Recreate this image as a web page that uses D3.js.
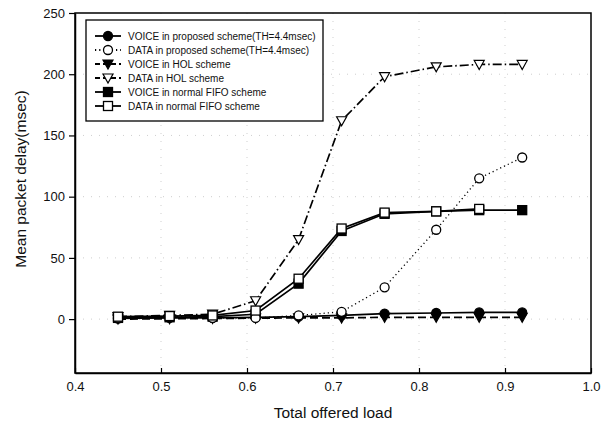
<!DOCTYPE html>
<html>
<head>
<meta charset="utf-8">
<script src="https://cdn.jsdelivr.net/npm/d3@7"></script>
<style>
  body { margin: 0; background: #fff; }
  svg { font-family: "Liberation Sans", Arial, sans-serif; }
</style>
</head>
<body>
<svg id="chart" width="607" height="434"></svg>
<script>
// offered load values
const loads = [0.45, 0.51, 0.56, 0.61, 0.66, 0.71, 0.76, 0.82, 0.87, 0.92];

// mean packet delay (msec) per scheme
const voiceProposed = [0.5, 1, 1, 1.5, 2, 3, 4.5, 5, 5.5, 5.5];
const dataProposed = [1, 2.5, 1, 1, 3, 6, 26, 73, 115, 132];
const voiceHOL = [0, 0.3, 0.5, 0.8, 1, 1, 1.5, 1.5, 1.5, 1.5];
const dataHOL = [2, 3, 4, 15, 65, 162, 198, 206, 208, 208];
const voiceFIFO = [1, 1.5, 2, 4, 29, 72, 86, 88, 89, 89];
const dataFIFO = [2, 2.5, 3, 7, 33, 74, 87, 88, 90];

const xTicks = [0.4, 0.5, 0.6, 0.7, 0.8, 0.9, 1.0];
const yTicks = [0, 50, 100, 150, 200, 250];

const series = [
  {name: 'VOICE in proposed scheme(TH=4.4msec)', values: voiceProposed, symbol: 'circle', filled: true, dash: null},
  {name: 'DATA in proposed scheme(TH=4.4msec)', values: dataProposed, symbol: 'circle', filled: false, dash: '1.2,3'},
  {name: 'VOICE in HOL scheme', values: voiceHOL, symbol: 'tri', filled: true, dash: '8,4'},
  {name: 'DATA in HOL scheme', values: dataHOL, symbol: 'tri', filled: false, dash: '9,3,1.5,3'},
  {name: 'VOICE in normal FIFO scheme', values: voiceFIFO, symbol: 'square', filled: true, dash: null},
  {name: 'DATA in normal FIFO scheme', values: dataFIFO, symbol: 'square', filled: false, dash: null}
];

const margin = {left: 75, right: 16, top: 13, bottom: 61};
const width = 607, height = 434;

const svg = d3.select('#chart');

const x = d3.scaleLinear().domain([0.4, 1.0]).range([margin.left, width - margin.right]);
const y = d3.scaleLinear().domain([-44, 250]).range([height - margin.bottom, margin.top]);

// faint dotted grid (scan-like)
const grid = svg.append('g').attr('stroke', '#bbb').attr('stroke-width', 1)
  .attr('stroke-dasharray', '1,7').attr('opacity', 0.7);
grid.selectAll('line.v').data(xTicks.slice(1, -1)).enter().append('line')
  .attr('x1', d => x(d)).attr('x2', d => x(d))
  .attr('y1', y.range()[1]).attr('y2', y.range()[0]);
grid.selectAll('line.h').data(yTicks.slice(0, -1)).enter().append('line')
  .attr('x1', x.range()[0]).attr('x2', x.range()[1])
  .attr('y1', d => y(d)).attr('y2', d => y(d));

// frame
svg.append('rect')
  .attr('x', x.range()[0]).attr('y', y.range()[1])
  .attr('width', x.range()[1] - x.range()[0])
  .attr('height', y.range()[0] - y.range()[1])
  .attr('fill', 'none').attr('stroke', '#000').attr('stroke-width', 1.5);

const xAxis = svg.append('g')
  .attr('transform', `translate(0,${y.range()[0]})`)
  .call(d3.axisBottom(x).tickValues(xTicks).tickFormat(d3.format('.1f')).tickSizeInner(-5).tickSizeOuter(0).tickPadding(9));
const yAxis = svg.append('g')
  .attr('transform', `translate(${x.range()[0]},0)`)
  .call(d3.axisLeft(y).tickValues(yTicks).tickSizeInner(6).tickSizeOuter(0).tickPadding(4));

[xAxis, yAxis].forEach(a => {
  a.select('.domain').attr('stroke-width', 1.5);
  a.selectAll('.tick line').attr('stroke-width', 1.2);
  a.selectAll('.tick text').attr('font-size', 13).attr('fill', '#111');
});

svg.append('text')
  .attr('x', (x.range()[0] + x.range()[1]) / 2).attr('y', 418)
  .attr('text-anchor', 'middle').attr('font-size', 15.5).attr('fill', '#111')
  .text('Total offered load');

svg.append('text')
  .attr('transform', `translate(26,${(y.range()[0] + y.range()[1]) / 2 - 14}) rotate(-90)`)
  .attr('text-anchor', 'middle').attr('font-size', 15.5).attr('fill', '#111')
  .text('Mean packet delay(msec)');

function drawSymbol(g, s, cx, cy) {
  const fill = s.filled ? '#000' : '#fff';
  if (s.symbol === 'circle') {
    g.append('circle').attr('cx', cx).attr('cy', cy).attr('r', 4.5)
      .attr('fill', fill).attr('stroke', '#000').attr('stroke-width', 1.3);
  } else if (s.symbol === 'square') {
    g.append('rect').attr('x', cx - 4.5).attr('y', cy - 4.5).attr('width', 9).attr('height', 9)
      .attr('fill', fill).attr('stroke', '#000').attr('stroke-width', 1.3);
  } else {
    g.append('path').attr('d', `M${cx - 5},${cy - 4}L${cx + 5},${cy - 4}L${cx},${cy + 5}Z`)
      .attr('fill', fill).attr('stroke', '#000').attr('stroke-width', 1.2);
  }
}

const line = d3.line().x(d => x(d[0])).y(d => y(d[1]));

// draw lines then markers in an order that lets open markers cover the voice ones
const order = [2, 0, 4, 3, 1, 5];
order.forEach(i => {
  const s = series[i];
  const pts = s.values.map((v, j) => [loads[j], v]);
  svg.append('path').datum(pts)
    .attr('d', line)
    .attr('fill', 'none').attr('stroke', '#000')
    .attr('stroke-width', s.dash === '1.2,3' ? 1.3 : 1.7)
    .attr('stroke-dasharray', s.dash);
});
order.forEach(i => {
  const s = series[i];
  const g = svg.append('g');
  s.values.forEach((v, j) => drawSymbol(g, s, x(loads[j]), y(v)));
});

// legend
const lg = svg.append('g');
lg.append('rect').attr('x', 86).attr('y', 20).attr('width', 237).attr('height', 101)
  .attr('fill', '#fff').attr('stroke', '#000').attr('stroke-width', 1.3);
series.forEach((s, i) => {
  const yy = 36 + i * 14;
  lg.append('line').attr('x1', 95).attr('x2', 121).attr('y1', yy).attr('y2', yy)
    .attr('stroke', '#000').attr('stroke-width', 1.8).attr('stroke-dasharray', s.dash ? (s.dash === '1.2,3' ? '1.2,3' : '5,3') : null);
  drawSymbol(lg, s, 108, yy);
  lg.append('text').attr('x', 128).attr('y', yy + 3.5)
    .attr('font-size', 10).attr('fill', '#111').text(s.name);
});
</script>
</body>
</html>
